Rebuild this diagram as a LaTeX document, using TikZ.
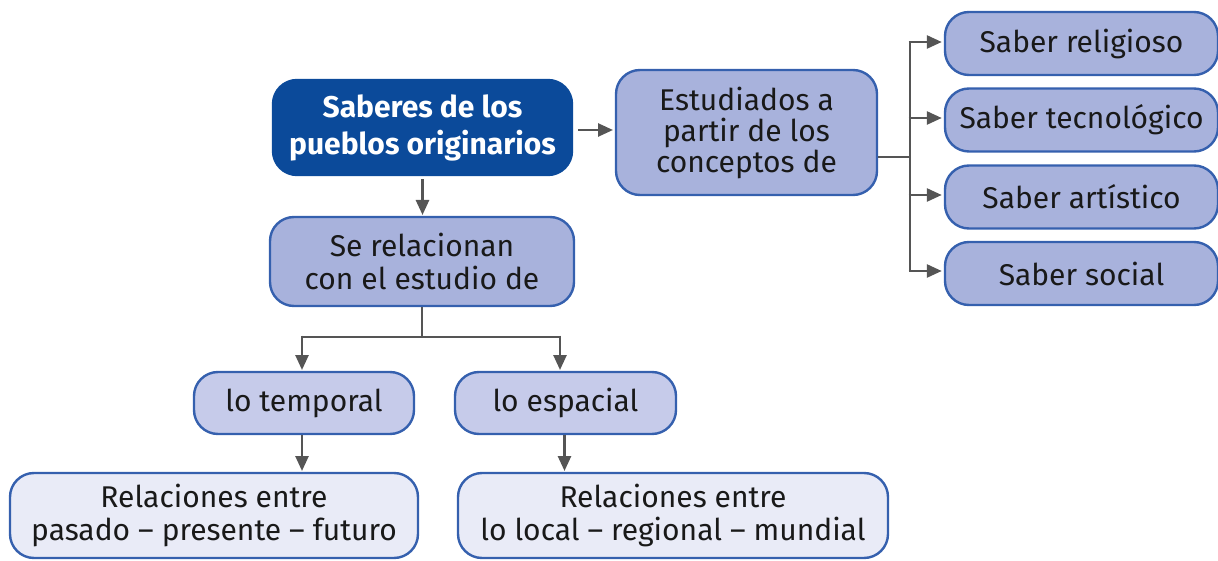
\documentclass[tikz,border=0pt]{standalone}
\usepackage{fontspec}
\setmainfont{Fira Sans}
\usetikzlibrary{arrows.meta}
\definecolor{dark}{HTML}{0B4A9A}
\definecolor{bord}{HTML}{3560AE}
\definecolor{mid}{HTML}{A8B2DC}
\definecolor{light}{HTML}{C6CBEA}
\definecolor{pale}{HTML}{E9EBF7}
\definecolor{conn}{HTML}{555555}
\begin{document}
\begin{tikzpicture}[x=1pt,y=-1pt,
  box/.style={draw=bord, line width=2.4pt, rounded corners=24pt, align=center, inner sep=0pt, font=\fontsize{30}{33}\selectfont, text=black!90},
  conn/.style={draw=conn, line width=2.6pt},
  arr/.style={conn, -{Triangle[length=15pt,width=13pt]}}]
\useasboundingbox (0,0) rectangle (1218,561);
\node[box, fill=dark, draw=dark, text=white, font=\fontsize{30}{37}\selectfont\bfseries, minimum width=299pt, minimum height=95pt] (main) at (422.5,127.5) {Saberes de los\\pueblos originarios};
\node[box, fill=mid, minimum width=261pt, minimum height=125pt, font=\fontsize{30}{31}\selectfont] (est) at (746.5,132.5) {Estudiados a\\partir de los\\conceptos de};
\node[box, fill=mid, minimum width=273pt, minimum height=63pt] (r1) at (1081.5,43.5) {Saber religioso};
\node[box, fill=mid, minimum width=273pt, minimum height=63pt] (r2) at (1081.5,120) {Saber tecnológico};
\node[box, fill=mid, minimum width=273pt, minimum height=63pt] (r3) at (1081.5,197) {Saber artístico};
\node[box, fill=mid, minimum width=273pt, minimum height=63pt] (r4) at (1081.5,273.5) {Saber social};
\node[box, fill=mid, minimum width=304pt, minimum height=89pt] (se) at (422,261.5) {Se relacionan\\con el estudio de};
\node[box, fill=light, minimum width=220pt, minimum height=62pt] (tmp) at (304,403) {lo temporal};
\node[box, fill=light, minimum width=221pt, minimum height=62pt] (esp) at (565.5,403) {lo espacial};
\node[box, fill=pale, minimum width=408pt, minimum height=85pt] (rel1) at (214,515.5) {Relaciones entre\\pasado – presente – futuro};
\node[box, fill=pale, minimum width=430pt, minimum height=85pt] (rel2) at (673,515.5) {Relaciones entre\\lo local – regional – mundial};
% connectors
\draw[arr] ([xshift=5pt]main.east|-0,130) -- (613,130);
\draw[arr] (main.south) ++(0,3) -- (422.5,215);
\coordinate (bx) at (910,157);
\draw[conn] (est.east|-bx) -- (bx);
\draw[conn] (910,42) -- (910,271);
\foreach \n/\y in {r1/42,r2/118,r3/195,r4/271}
  \draw[arr] (908.7,\y) -- ([xshift=-2pt]\n.west|-0,\y);
\coordinate (sj) at (422,337);
\draw[conn] (se.south) -- (sj);
\draw[conn] (302,337) -- (560,337);
\draw[arr] (302,335.7) -- (302,370);
\draw[arr] (560,335.7) -- (560,370);
\draw[arr] (tmp.south) ++(-2,0) -- (302,471);
\draw[arr] (esp.south) ++(-1,0) -- (564.5,471);
\end{tikzpicture}
\end{document}
